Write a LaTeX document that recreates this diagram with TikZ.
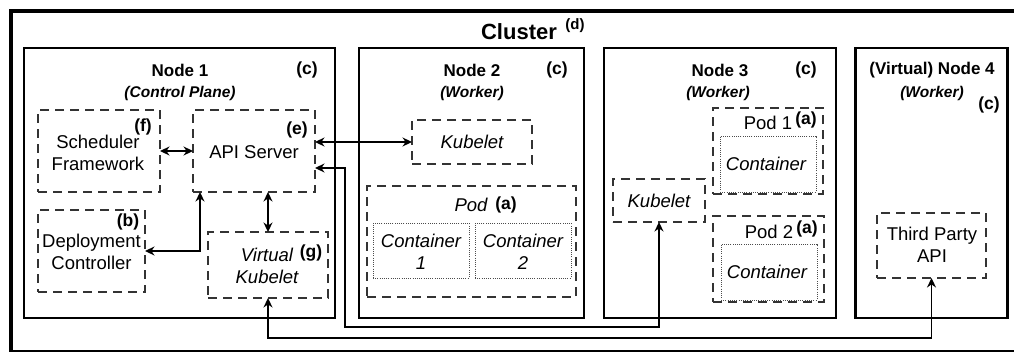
\documentclass[tikz,border=0pt]{standalone}
\usepackage{fontspec}
\setmainfont{Liberation Sans}
\usetikzlibrary{arrows.meta,calc}
\begin{document}
\begin{tikzpicture}[x=1pt,y=-1pt,
  every node/.style={inner sep=0pt, outer sep=0pt},
  hostbox/.style={draw=black, line width=2.6pt, rectangle},
  partbox/.style={draw=black!80, line width=1.5pt, dash pattern=on 9pt off 6pt, rectangle},
  ctrbox/.style={draw=black!70, line width=1pt, dash pattern=on 1pt off 1.2pt, rectangle},
  ttl/.style={font=\fontsize{17}{19}\selectfont\bfseries},
  sub/.style={font=\fontsize{15.5}{18}\selectfont\bfseries\itshape},
  tag/.style={font=\fontsize{17.5}{19}\selectfont\bfseries},
  body/.style={font=\fontsize{18.5}{22}\selectfont, align=center},
  ibody/.style={font=\fontsize{18.5}{22}\selectfont\itshape, align=center},
  link/.style={draw=black, line width=1.3pt,
    {Stealth[length=9.5pt,width=9pt]}-{Stealth[length=9.5pt,width=9pt]}},
]
\useasboundingbox (0,0) rectangle (1014,351);
\clip (0,0) rectangle (1014,351);

% cluster frame (its right side lies beyond the edge)
\draw[line width=4pt] (1040,11) -- (11,11) -- (11,351.5) -- (1040,351.5);
\node[font=\fontsize{22}{24}\selectfont\bfseries] (clusterttl) at (519,32) {Cluster};
\node[font=\fontsize{15}{17}\selectfont\bfseries] (tagd) at (575,26) {(d)};

% hosts
\node[hostbox, minimum width=311pt, minimum height=270pt] (n1) at (179.5,183) {};
\node[hostbox, minimum width=225pt, minimum height=270pt] (n2) at (471.5,183) {};
\node[hostbox, minimum width=232pt, minimum height=270pt] (n3) at (720,183) {};
\node[hostbox, minimum width=152pt, minimum height=270pt] (n4) at (931.5,183) {};

\node[ttl] (n1t) at (180,70) {Node 1};
\node[sub] (n1s) at (180,93) {(Control Plane)};
\node[tag] (n1c) at (307,70) {(c)};
\node[ttl] (n2t) at (472,70) {Node 2};
\node[sub] (n2s) at (472,93) {(Worker)};
\node[tag] (n2c) at (557,70) {(c)};
\node[ttl] (n3t) at (720,70) {Node 3};
\node[sub] (n3s) at (718,93) {(Worker)};
\node[tag] (n3c) at (806,70) {(c)};
\node[ttl] (n4t) at (932,70) {(Virtual) Node 4};
\node[sub] (n4s) at (932,93) {(Worker)};
\node[tag] (n4c) at (989,105) {(c)};

% control plane components
\node[partbox, minimum width=122pt, minimum height=82pt] (sched) at (99,151) {};
\node[body] at (98,152.5) {Scheduler\\Framework};
\node[tag] (tagf) at (143,127) {(f)};

\node[partbox, minimum width=122pt, minimum height=82pt] (api) at (254,151) {};
\node[body] at (254,152) {API Server};
\node[tag] (tage) at (297,130) {(e)};

\node[partbox, minimum width=107pt, minimum height=82pt] (deploy) at (91.5,251) {};
\node[body] at (91.5,252) {Deployment\\Controller};
\node[tag] (tagb) at (128,222) {(b)};

\node[partbox, minimum width=120pt, minimum height=66pt] (vk) at (268,265) {};
\node[ibody] at (267,266) {Virtual\\Kubelet};
\node[tag] (tagg) at (311,253) {(g)};

% node 2
\node[partbox, minimum width=120pt, minimum height=44pt] (kub2) at (472,142) {};
\node[ibody] at (472,142) {Kubelet};
\node[partbox, minimum width=209pt, minimum height=111pt] (pod) at (471.5,241.5) {};
\node[ibody] (podt) at (471,205) {Pod};
\node[tag] (taga1) at (506,205) {(a)};
\node[ctrbox, minimum width=96pt, minimum height=55pt] (c1) at (421,250.5) {};
\node[ibody] at (421,251.5) {Container\\1};
\node[ctrbox, minimum width=96pt, minimum height=55pt] (c2) at (523,250.5) {};
\node[ibody] at (523,251.5) {Container\\2};

% node 3
\node[partbox, minimum width=92pt, minimum height=43pt] (kub3) at (659,200.5) {};
\node[ibody] at (659,200.5) {Kubelet};
\node[partbox, minimum width=110pt, minimum height=86pt] (pod1) at (768,151) {};
\node[body] (pod1t) at (768,123) {Pod 1};
\node[tag] (taga2) at (806,120) {(a)};
\node[ctrbox, minimum width=96pt, minimum height=56pt] (cont1) at (768,164) {};
\node[ibody] at (766,163.5) {Container};
\node[partbox, minimum width=111pt, minimum height=86pt] (pod2) at (768.5,259) {};
\node[body] (pod2t) at (769,232) {Pod 2};
\node[tag] (taga3) at (807,229) {(a)};
\node[ctrbox, minimum width=96pt, minimum height=56pt] (cont2) at (769,272) {};
\node[ibody] at (767,272) {Container};

% node 4
\node[partbox, minimum width=109pt, minimum height=65pt] (tpa) at (931.5,245.5) {};
\node[body] at (932,245) {Third Party\\API};

% connectors
\coordinate (busA) at (345,327);
\coordinate (busB) at (0,338);
\draw[link] (sched.east) -- (api.west);
\draw[link] (vk.north |- api.south) -- (vk.north);
\draw[link] (deploy.east) -| ($(api.south west)+(7,0)$);
\draw[link] (api.east |- kub2.west) -- (kub2.west);
\draw[link] ($(api.east)+(0,17)$) -| (busA) -| (kub3.south);
\draw[link] (vk.south) -- (vk.south |- busB) -| (tpa.south);
\end{tikzpicture}
\end{document}
